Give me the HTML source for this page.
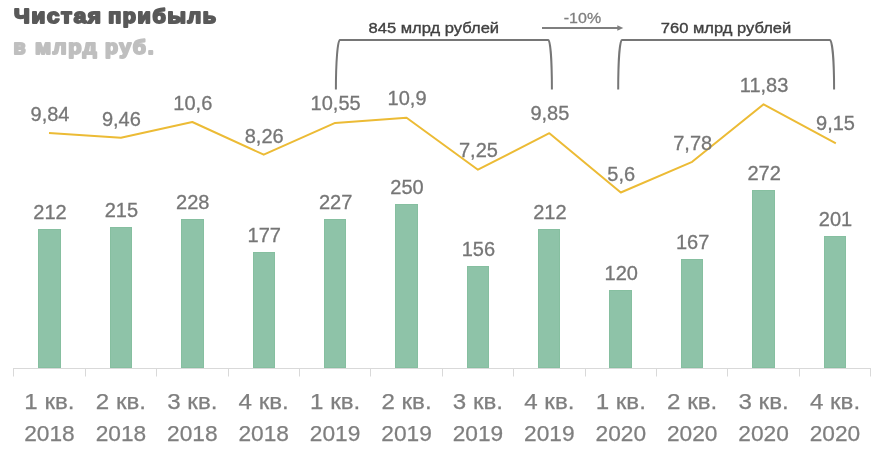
<!DOCTYPE html><html><head><meta charset="utf-8"><style>html,body{margin:0;padding:0;background:#fff;}svg{display:block;will-change:transform;}text{font-family:"Liberation Sans",sans-serif;}</style></head><body>
<svg width="872" height="457" viewBox="0 0 872 457" xmlns="http://www.w3.org/2000/svg">
<text x="14" y="22.8" font-size="20" font-weight="bold" letter-spacing="1.5" fill="#595959" stroke="#595959" stroke-width="1.9" stroke-linejoin="round" textLength="88.6" lengthAdjust="spacingAndGlyphs">Чистая</text>
<text x="108.2" y="22.8" font-size="20" font-weight="bold" letter-spacing="1.5" fill="#595959" stroke="#595959" stroke-width="1.9" stroke-linejoin="round" textLength="109.4" lengthAdjust="spacingAndGlyphs">прибыль</text>
<text x="13.5" y="53.8" font-size="20" font-weight="bold" letter-spacing="1.5" fill="#bfbfbf" stroke="#bfbfbf" stroke-width="1.9" stroke-linejoin="round" textLength="13.6" lengthAdjust="spacingAndGlyphs">в</text>
<text x="35" y="53.8" font-size="20" font-weight="bold" letter-spacing="1.5" fill="#bfbfbf" stroke="#bfbfbf" stroke-width="1.9" stroke-linejoin="round" textLength="63.2" lengthAdjust="spacingAndGlyphs">млрд</text>
<text x="105" y="53.8" font-size="20" font-weight="bold" letter-spacing="1.5" fill="#bfbfbf" stroke="#bfbfbf" stroke-width="1.9" stroke-linejoin="round" textLength="50.2" lengthAdjust="spacingAndGlyphs">руб.</text>
<path d="M13.0 368.5H871.0" stroke="#d9d9d9" stroke-width="1" fill="none"/>
<path d="M13.5 368.5v8M85.5 368.5v8M156.5 368.5v8M228.5 368.5v8M299.5 368.5v8M370.5 368.5v8M442.5 368.5v8M513.5 368.5v8M585.5 368.5v8M656.5 368.5v8M727.5 368.5v8M799.5 368.5v8M870.5 368.5v8" stroke="#d9d9d9" stroke-width="1" fill="none"/>
<rect x="38.5" y="229.5" width="22" height="138" fill="#8ec3a8" stroke="#86bfa0" stroke-width="1"/>
<text x="49.99" y="218.70" font-size="20" fill="#767676" stroke="#767676" stroke-width="0.3" text-anchor="middle">212</text>
<rect x="110.5" y="227.5" width="21" height="140" fill="#8ec3a8" stroke="#86bfa0" stroke-width="1"/>
<text x="121.41" y="216.70" font-size="20" fill="#767676" stroke="#767676" stroke-width="0.3" text-anchor="middle">215</text>
<rect x="181.5" y="219.5" width="22" height="148" fill="#8ec3a8" stroke="#86bfa0" stroke-width="1"/>
<text x="192.81" y="208.70" font-size="20" fill="#767676" stroke="#767676" stroke-width="0.3" text-anchor="middle">228</text>
<rect x="253.5" y="252.5" width="21" height="115" fill="#8ec3a8" stroke="#86bfa0" stroke-width="1"/>
<text x="264.23" y="241.70" font-size="20" fill="#767676" stroke="#767676" stroke-width="0.3" text-anchor="middle">177</text>
<rect x="324.5" y="219.5" width="21" height="148" fill="#8ec3a8" stroke="#86bfa0" stroke-width="1"/>
<text x="335.63" y="208.70" font-size="20" fill="#767676" stroke="#767676" stroke-width="0.3" text-anchor="middle">227</text>
<rect x="395.5" y="204.5" width="22" height="163" fill="#8ec3a8" stroke="#86bfa0" stroke-width="1"/>
<text x="407.05" y="193.70" font-size="20" fill="#767676" stroke="#767676" stroke-width="0.3" text-anchor="middle">250</text>
<rect x="467.5" y="266.5" width="21" height="101" fill="#8ec3a8" stroke="#86bfa0" stroke-width="1"/>
<text x="478.45" y="255.70" font-size="20" fill="#767676" stroke="#767676" stroke-width="0.3" text-anchor="middle">156</text>
<rect x="538.5" y="229.5" width="21" height="138" fill="#8ec3a8" stroke="#86bfa0" stroke-width="1"/>
<text x="549.86" y="218.70" font-size="20" fill="#767676" stroke="#767676" stroke-width="0.3" text-anchor="middle">212</text>
<rect x="609.5" y="290.5" width="22" height="77" fill="#8ec3a8" stroke="#86bfa0" stroke-width="1"/>
<text x="621.27" y="279.70" font-size="20" fill="#767676" stroke="#767676" stroke-width="0.3" text-anchor="middle">120</text>
<rect x="681.5" y="259.5" width="21" height="108" fill="#8ec3a8" stroke="#86bfa0" stroke-width="1"/>
<text x="692.68" y="248.70" font-size="20" fill="#767676" stroke="#767676" stroke-width="0.3" text-anchor="middle">167</text>
<rect x="752.5" y="190.5" width="22" height="177" fill="#8ec3a8" stroke="#86bfa0" stroke-width="1"/>
<text x="764.09" y="179.70" font-size="20" fill="#767676" stroke="#767676" stroke-width="0.3" text-anchor="middle">272</text>
<rect x="824.5" y="236.5" width="21" height="131" fill="#8ec3a8" stroke="#86bfa0" stroke-width="1"/>
<text x="835.50" y="225.70" font-size="20" fill="#767676" stroke="#767676" stroke-width="0.3" text-anchor="middle">201</text>
<polyline points="49.00,132.90 120.91,137.80 192.31,122.00 263.73,154.70 335.13,122.90 406.55,117.80 477.95,169.70 549.36,133.20 620.77,192.50 692.18,161.80 763.59,104.30 835.00,142.90 835.8,143.35" fill="none" stroke="#ecbb35" stroke-width="2" stroke-linejoin="round"/>
<text x="49.99" y="121.00" font-size="20" fill="#767676" stroke="#767676" stroke-width="0.3" text-anchor="middle">9,84</text>
<text x="121.41" y="126.00" font-size="20" fill="#767676" stroke="#767676" stroke-width="0.3" text-anchor="middle">9,46</text>
<text x="192.81" y="110.10" font-size="20" fill="#767676" stroke="#767676" stroke-width="0.3" text-anchor="middle">10,6</text>
<text x="264.23" y="143.10" font-size="20" fill="#767676" stroke="#767676" stroke-width="0.3" text-anchor="middle">8,26</text>
<text x="335.63" y="109.70" font-size="20" fill="#767676" stroke="#767676" stroke-width="0.3" text-anchor="middle">10,55</text>
<text x="407.05" y="104.80" font-size="20" fill="#767676" stroke="#767676" stroke-width="0.3" text-anchor="middle">10,9</text>
<text x="478.45" y="156.70" font-size="20" fill="#767676" stroke="#767676" stroke-width="0.3" text-anchor="middle">7,25</text>
<text x="549.86" y="120.10" font-size="20" fill="#767676" stroke="#767676" stroke-width="0.3" text-anchor="middle">9,85</text>
<text x="621.27" y="180.60" font-size="20" fill="#767676" stroke="#767676" stroke-width="0.3" text-anchor="middle">5,6</text>
<text x="692.68" y="150.00" font-size="20" fill="#767676" stroke="#767676" stroke-width="0.3" text-anchor="middle">7,78</text>
<text x="764.09" y="92.10" font-size="20" fill="#767676" stroke="#767676" stroke-width="0.3" text-anchor="middle">11,83</text>
<text x="835.50" y="130.00" font-size="20" fill="#767676" stroke="#767676" stroke-width="0.3" text-anchor="middle">9,15</text>
<text x="49.49" y="408.5" font-size="21.5" fill="#7f7f7f" stroke="#7f7f7f" stroke-width="0.25" text-anchor="middle" textLength="50.2" lengthAdjust="spacingAndGlyphs">1 кв.</text>
<text x="49.49" y="440.5" font-size="21.5" fill="#7f7f7f" stroke="#7f7f7f" stroke-width="0.25" text-anchor="middle" textLength="50.5" lengthAdjust="spacingAndGlyphs">2018</text>
<text x="120.91" y="408.5" font-size="21.5" fill="#7f7f7f" stroke="#7f7f7f" stroke-width="0.25" text-anchor="middle" textLength="50.2" lengthAdjust="spacingAndGlyphs">2 кв.</text>
<text x="120.91" y="440.5" font-size="21.5" fill="#7f7f7f" stroke="#7f7f7f" stroke-width="0.25" text-anchor="middle" textLength="50.5" lengthAdjust="spacingAndGlyphs">2018</text>
<text x="192.31" y="408.5" font-size="21.5" fill="#7f7f7f" stroke="#7f7f7f" stroke-width="0.25" text-anchor="middle" textLength="50.2" lengthAdjust="spacingAndGlyphs">3 кв.</text>
<text x="192.31" y="440.5" font-size="21.5" fill="#7f7f7f" stroke="#7f7f7f" stroke-width="0.25" text-anchor="middle" textLength="50.5" lengthAdjust="spacingAndGlyphs">2018</text>
<text x="263.73" y="408.5" font-size="21.5" fill="#7f7f7f" stroke="#7f7f7f" stroke-width="0.25" text-anchor="middle" textLength="50.2" lengthAdjust="spacingAndGlyphs">4 кв.</text>
<text x="263.73" y="440.5" font-size="21.5" fill="#7f7f7f" stroke="#7f7f7f" stroke-width="0.25" text-anchor="middle" textLength="50.5" lengthAdjust="spacingAndGlyphs">2018</text>
<text x="335.13" y="408.5" font-size="21.5" fill="#7f7f7f" stroke="#7f7f7f" stroke-width="0.25" text-anchor="middle" textLength="50.2" lengthAdjust="spacingAndGlyphs">1 кв.</text>
<text x="335.13" y="440.5" font-size="21.5" fill="#7f7f7f" stroke="#7f7f7f" stroke-width="0.25" text-anchor="middle" textLength="50.5" lengthAdjust="spacingAndGlyphs">2019</text>
<text x="406.55" y="408.5" font-size="21.5" fill="#7f7f7f" stroke="#7f7f7f" stroke-width="0.25" text-anchor="middle" textLength="50.2" lengthAdjust="spacingAndGlyphs">2 кв.</text>
<text x="406.55" y="440.5" font-size="21.5" fill="#7f7f7f" stroke="#7f7f7f" stroke-width="0.25" text-anchor="middle" textLength="50.5" lengthAdjust="spacingAndGlyphs">2019</text>
<text x="477.95" y="408.5" font-size="21.5" fill="#7f7f7f" stroke="#7f7f7f" stroke-width="0.25" text-anchor="middle" textLength="50.2" lengthAdjust="spacingAndGlyphs">3 кв.</text>
<text x="477.95" y="440.5" font-size="21.5" fill="#7f7f7f" stroke="#7f7f7f" stroke-width="0.25" text-anchor="middle" textLength="50.5" lengthAdjust="spacingAndGlyphs">2019</text>
<text x="549.36" y="408.5" font-size="21.5" fill="#7f7f7f" stroke="#7f7f7f" stroke-width="0.25" text-anchor="middle" textLength="50.2" lengthAdjust="spacingAndGlyphs">4 кв.</text>
<text x="549.36" y="440.5" font-size="21.5" fill="#7f7f7f" stroke="#7f7f7f" stroke-width="0.25" text-anchor="middle" textLength="50.5" lengthAdjust="spacingAndGlyphs">2019</text>
<text x="620.77" y="408.5" font-size="21.5" fill="#7f7f7f" stroke="#7f7f7f" stroke-width="0.25" text-anchor="middle" textLength="50.2" lengthAdjust="spacingAndGlyphs">1 кв.</text>
<text x="620.77" y="440.5" font-size="21.5" fill="#7f7f7f" stroke="#7f7f7f" stroke-width="0.25" text-anchor="middle" textLength="50.5" lengthAdjust="spacingAndGlyphs">2020</text>
<text x="692.18" y="408.5" font-size="21.5" fill="#7f7f7f" stroke="#7f7f7f" stroke-width="0.25" text-anchor="middle" textLength="50.2" lengthAdjust="spacingAndGlyphs">2 кв.</text>
<text x="692.18" y="440.5" font-size="21.5" fill="#7f7f7f" stroke="#7f7f7f" stroke-width="0.25" text-anchor="middle" textLength="50.5" lengthAdjust="spacingAndGlyphs">2020</text>
<text x="763.59" y="408.5" font-size="21.5" fill="#7f7f7f" stroke="#7f7f7f" stroke-width="0.25" text-anchor="middle" textLength="50.2" lengthAdjust="spacingAndGlyphs">3 кв.</text>
<text x="763.59" y="440.5" font-size="21.5" fill="#7f7f7f" stroke="#7f7f7f" stroke-width="0.25" text-anchor="middle" textLength="50.5" lengthAdjust="spacingAndGlyphs">2020</text>
<text x="835.00" y="408.5" font-size="21.5" fill="#7f7f7f" stroke="#7f7f7f" stroke-width="0.25" text-anchor="middle" textLength="50.2" lengthAdjust="spacingAndGlyphs">4 кв.</text>
<text x="835.00" y="440.5" font-size="21.5" fill="#7f7f7f" stroke="#7f7f7f" stroke-width="0.25" text-anchor="middle" textLength="50.5" lengthAdjust="spacingAndGlyphs">2020</text>
<path d="M335.9 89.6A3.900000000000034 49.599999999999994 0 0 1 339.8 40H548.4A3.5 49.599999999999994 0 0 1 551.9 89.6" fill="none" stroke="#767676" stroke-width="2"/>
<path d="M618.2 89.6A3.599999999999909 49.599999999999994 0 0 1 621.8 40H830A4.100000000000023 49.599999999999994 0 0 1 834.1 89.6" fill="none" stroke="#767676" stroke-width="2"/>
<text x="368.5" y="33.1" font-size="15.2" fill="#404040" stroke="#404040" stroke-width="0.35" textLength="130.6" lengthAdjust="spacingAndGlyphs">845 млрд рублей</text>
<text x="660.8" y="33.1" font-size="15.2" fill="#404040" stroke="#404040" stroke-width="0.35" textLength="130.4" lengthAdjust="spacingAndGlyphs">760 млрд рублей</text>
<path d="M542 28H618" stroke="#7f7f7f" stroke-width="2" fill="none"/>
<path d="M617.3 25.3L623.3 28L617.3 30.7Z" fill="#7f7f7f"/>
<text x="563.8" y="22.9" font-size="15.1" fill="#7f7f7f" stroke="#7f7f7f" stroke-width="0.3" textLength="37.3" lengthAdjust="spacingAndGlyphs">-10%</text>
</svg></body></html>
